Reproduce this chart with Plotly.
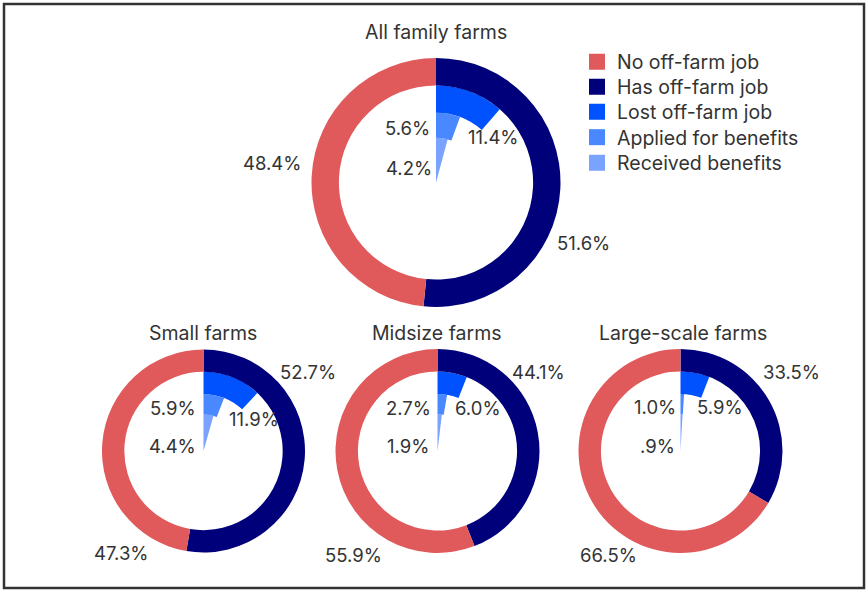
import plotly.graph_objects as go

W, H = 867, 590

# ---------------- data ----------------
groups = ["All family farms", "Small farms", "Midsize farms", "Large-scale farms"]
no_offfarm = [48.4, 47.3, 55.9, 66.5]
has_offfarm = [51.6, 52.7, 44.1, 33.5]
lost_job = [11.4, 11.9, 6.0, 5.9]
applied = [5.6, 5.9, 2.7, 1.0]
received = [4.2, 4.4, 1.9, 0.9]
legend_names = ["No off-farm job", "Has off-farm job", "Lost off-farm job",
                "Applied for benefits", "Received benefits"]
label_text = {0.9: ".9%"}

# ---------------- styles ----------------
C_NO = "#E05A5C"
C_HAS = "#00007A"
C_LOST = "#0052FF"
C_APP = "#4A88FF"
C_REC = "#7AA2FF"
legend_colors = [C_NO, C_HAS, C_LOST, C_APP, C_REC]
TXT = "#333333"
FONT = "Inter"
TITLE_SIZE = 19.5
LAB_SIZE = 18.5

HOLE = 0.78
# radial bands (inner, outer) of the inner rings, as fraction of donut outer radius
BAND_REC = (0.0, 0.36)
BAND_APP = (0.36, 0.56)
BAND_LOST = (0.56, 0.78)

# donut centers / outer radius in pixels
centers = [(436, 182.5, 124.5), (203.5, 451, 101.5), (437.5, 451, 102), (680.5, 451, 102)]
legend_rows = [62, 87, 112, 137.5, 163]


def px(x):
    return x / W


def py(y):
    return 1 - y / H


def fmt(v):
    return label_text.get(v, f"{v:.1f}%")


fig = go.Figure()
annotations = []
polars = {}

for i, g in enumerate(groups):
    cx, cy, r = centers[i]
    dom_x = [px(cx - r), px(cx + r)]
    dom_y = [py(cy + r), py(cy - r)]
    fig.add_trace(go.Pie(
        labels=["Has off-farm job", "No off-farm job"],
        values=[has_offfarm[i], no_offfarm[i]],
        hole=HOLE, sort=False, direction="clockwise", rotation=0,
        marker=dict(colors=[C_HAS, C_NO], line=dict(width=0)),
        textinfo="none", showlegend=False, hoverinfo="label+percent",
        domain=dict(x=dom_x, y=dom_y),
    ))
    pid = "polar" if i == 0 else f"polar{i+1}"
    for name, vals, band, col in [("Received benefits", received, BAND_REC, C_REC),
                                  ("Applied for benefits", applied, BAND_APP, C_APP),
                                  ("Lost off-farm job", lost_job, BAND_LOST, C_LOST)]:
        v = vals[i]
        fig.add_trace(go.Barpolar(
            r=[band[1] - band[0]], base=[band[0]],
            theta=[v * 3.6 / 2], width=[v * 3.6],
            marker=dict(color=col, line=dict(width=0)),
            name=name, showlegend=False, subplot=pid,
            hovertext=[f"{name}: {fmt(v)}"], hoverinfo="text",
        ))
    polars[pid] = dict(
        domain=dict(x=dom_x, y=dom_y),
        bgcolor="rgba(0,0,0,0)",
        barmode="overlay",
        radialaxis=dict(visible=False, range=[0, 1]),
        angularaxis=dict(visible=False, rotation=90, direction="clockwise"),
    )

# legend proxies, one small legend per row
legends = {}
for k, (name, col) in enumerate(zip(legend_names, legend_colors)):
    lid = "legend" if k == 0 else f"legend{k+1}"
    fig.add_trace(go.Scatter(x=[None], y=[None], mode="markers", name=name,
                             marker=dict(symbol="square", size=16, color=col),
                             hoverinfo="skip", legend=lid))
    legends[lid] = dict(x=px(577), y=py(legend_rows[k]), xanchor="left", yanchor="middle",
                        font=dict(size=TITLE_SIZE, color=TXT, family=FONT),
                        bgcolor="rgba(0,0,0,0)", itemclick=False, itemdoubleclick=False)

# titles
title_pos = [(436, 32), (203, 333), (437, 333), (683, 333)]
for g, (x, y) in zip(groups, title_pos):
    annotations.append(dict(text=g, x=px(x), y=py(y), xref="paper", yref="paper",
                            showarrow=False, xanchor="center", yanchor="middle",
                            font=dict(size=TITLE_SIZE, color=TXT, family=FONT)))

# value labels: (values, x, y, anchor)
lab_pos = [
    [(no_offfarm, 303, 163, "right"), (has_offfarm, 555, 243, "left"),
     (lost_job, 466, 137, "left"), (applied, 432, 128, "right"), (received, 434, 168, "right")],
    [(no_offfarm, 92, 553, "left"), (has_offfarm, 278, 372, "left"),
     (lost_job, 227, 419, "left"), (applied, 198, 408, "right"), (received, 198, 446, "right")],
    [(no_offfarm, 323, 555, "left"), (has_offfarm, 510, 372, "left"),
     (lost_job, 453, 408, "left"), (applied, 433, 408, "right"), (received, 431, 446, "right")],
    [(no_offfarm, 578, 555, "left"), (has_offfarm, 761, 372, "left"),
     (lost_job, 695, 407, "left"), (applied, 678, 407, "right"), (received, 677, 446, "right")],
]
for i, labs in enumerate(lab_pos):
    for vals, x, y, anc in labs:
        annotations.append(dict(text=fmt(vals[i]), x=px(x), y=py(y), xref="paper", yref="paper",
                                showarrow=False, xanchor=anc, yanchor="middle",
                                font=dict(size=LAB_SIZE, color=TXT, family=FONT)))

fig.update_layout(
    width=W, height=H,
    margin=dict(l=0, r=0, t=0, b=0),
    paper_bgcolor="white", plot_bgcolor="rgba(0,0,0,0)",
    font=dict(family=FONT, color=TXT, size=18),
    xaxis=dict(visible=False, domain=[0, 0.01]),
    yaxis=dict(visible=False, domain=[0, 0.01]),
    showlegend=True,
    annotations=annotations,
    shapes=[dict(type="rect", xref="paper", yref="paper",
                 x0=px(4), x1=px(864), y0=py(588), y1=py(4),
                 line=dict(color="#333333", width=2.5), layer="above")],
    **polars,
    **legends,
)

fig.write_html("out.html", post_script="document.body.style.margin='0px';",
               config={"displayModeBar": False})
